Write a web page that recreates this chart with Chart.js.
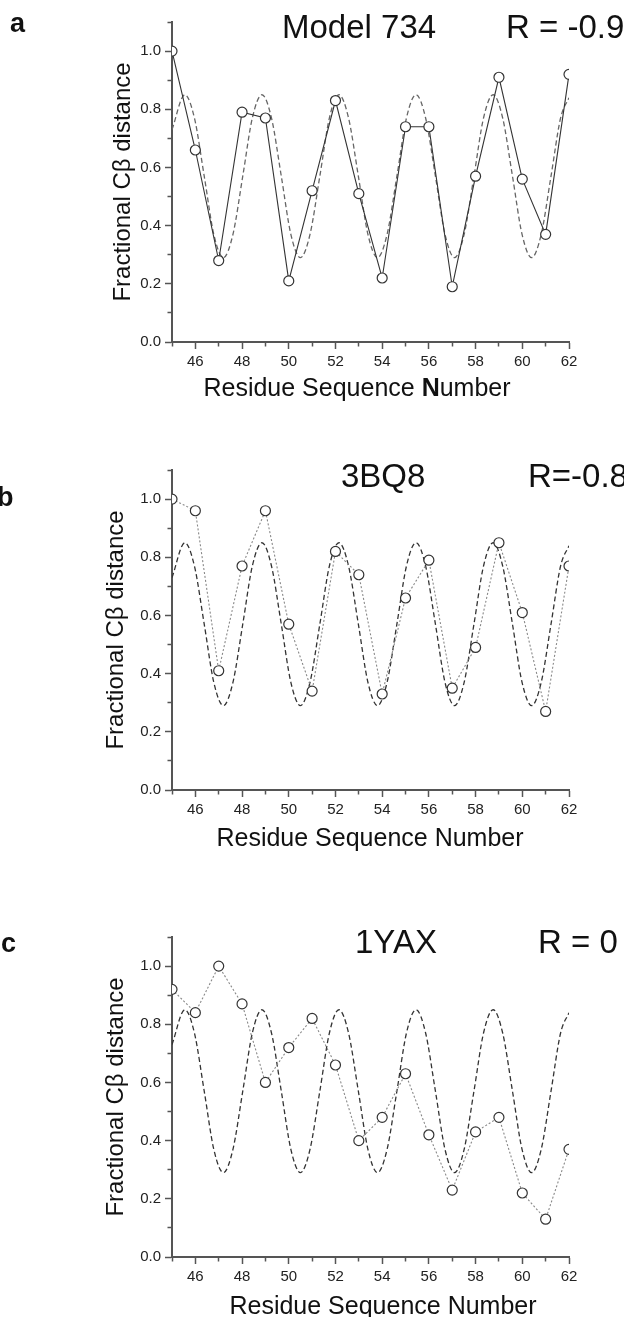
<!DOCTYPE html>
<html>
<head>
<meta charset="utf-8">
<script src="https://cdn.jsdelivr.net/npm/chart.js@4.4.1/dist/chart.umd.min.js"></script>
<style>
  html, body { margin: 0; padding: 0; background: #fff; }
  #page {
    position: relative; width: 624px; height: 1317px; overflow: hidden;
    font-family: "Liberation Sans", Arial, sans-serif; color: #111;
  }
  canvas.panel { position: absolute; left: 0; width: 624px; height: 400px; }
  .txt { position: absolute; white-space: nowrap; line-height: 1; }
  .lab { font-weight: bold; font-size: 27px; }
  .ttl { font-size: 33px; }
  .xt { font-size: 25px; width: 400px; text-align: center; }
  .xt b { font-weight: bold; }
</style>
</head>
<body>
<div id="page">
  <canvas id="chart-a" class="panel" width="624" height="400" style="top:0px"></canvas>
  <canvas id="chart-b" class="panel" width="624" height="400" style="top:448px"></canvas>
  <canvas id="chart-c" class="panel" width="624" height="400" style="top:915px"></canvas>

  <div class="txt lab" style="left:10px;top:10px">a</div>
  <div class="txt ttl" style="left:282px;top:10px">Model 734</div>
  <div class="txt ttl" style="left:506px;top:10px">R = -0.9</div>
  <div class="txt xt" style="left:157px;top:375px">Residue Sequence <b>N</b>umber</div>

  <div class="txt lab" style="left:-3px;top:484px">b</div>
  <div class="txt ttl" style="left:341px;top:459px">3BQ8</div>
  <div class="txt ttl" style="left:528px;top:459px">R=-0.8</div>
  <div class="txt xt" style="left:170px;top:825px">Residue Sequence Number</div>

  <div class="txt lab" style="left:1px;top:930px">c</div>
  <div class="txt ttl" style="left:355px;top:925px">1YAX</div>
  <div class="txt ttl" style="left:538px;top:925px">R = 0</div>
  <div class="txt xt" style="left:183px;top:1293px">Residue Sequence Number</div>
</div>

<script>
const residues = [45, 46, 47, 48, 49, 50, 51, 52, 53, 54, 55, 56, 57, 58, 59, 60, 61, 62];

const model734 = [1.0, 0.66, 0.28, 0.79, 0.77, 0.21, 0.52, 0.83, 0.51, 0.22, 0.74, 0.74, 0.19, 0.57, 0.91, 0.56, 0.37, 0.92];
const bq8 = [1.0, 0.96, 0.41, 0.77, 0.96, 0.57, 0.34, 0.82, 0.74, 0.33, 0.66, 0.79, 0.35, 0.49, 0.85, 0.61, 0.27, 0.77];
const yax = [0.92, 0.84, 1.0, 0.87, 0.60, 0.72, 0.82, 0.66, 0.40, 0.48, 0.63, 0.42, 0.23, 0.43, 0.48, 0.22, 0.13, 0.37];

// dashed ideal helix curve (same in all panels)
const helixX = [45, 45.55, 45.96, 46.38, 46.79, 47.2, 47.61, 48.03, 48.44, 48.85, 49.26, 49.68, 50.09, 50.5,
  50.91, 51.33, 51.74, 52.15, 52.56, 52.98, 53.39, 53.8, 54.21, 54.63, 55.04, 55.45, 55.86, 56.28, 56.69,
  57.1, 57.51, 57.93, 58.34, 58.75, 59.16, 59.58, 59.99, 60.4, 60.81, 61.23, 61.64, 62];
const helixY = [0.73, 0.85, 0.77, 0.57, 0.37, 0.29, 0.37, 0.57, 0.77, 0.85, 0.77, 0.57, 0.37, 0.29,
  0.37, 0.57, 0.77, 0.85, 0.77, 0.57, 0.37, 0.29, 0.37, 0.57, 0.77, 0.85, 0.77, 0.57, 0.37,
  0.29, 0.37, 0.57, 0.77, 0.85, 0.77, 0.57, 0.37, 0.29, 0.37, 0.57, 0.77, 0.84];

const yTitle = "Fractional C\u03B2 distance";
const FONT = "'Liberation Sans', Arial, sans-serif";

const panels = [
  { id: "chart-a", values: model734, lineColor: "#333", lineDash: [], helixColor: "#666", titlePad: 109 },
  { id: "chart-b", values: bq8, lineColor: "#888", lineDash: [2, 2], helixColor: "#333", titlePad: 102 },
  { id: "chart-c", values: yax, lineColor: "#888", lineDash: [2, 2], helixColor: "#333", titlePad: 102 },
];

function isMinorY(v) {
  return Math.round(v * 10) % 2 !== 0;
}

function buildChart(p) {
  const ctx = document.getElementById(p.id).getContext("2d");
  new Chart(ctx, {
    type: "line",
    data: {
      datasets: [
        {
          data: residues.map((r, i) => ({ x: r, y: p.values[i] })),
          borderColor: p.lineColor,
          borderWidth: 1.1,
          borderDash: p.lineDash,
          tension: 0,
          pointRadius: 5,
          pointBorderWidth: 1.2,
          pointBorderColor: "#333",
          pointBackgroundColor: "#fff",
          clip: 0,
        },
        {
          data: helixX.map((x, i) => ({ x: x, y: helixY[i] })),
          borderColor: p.helixColor,
          borderWidth: 1.3,
          borderDash: [5, 3],
          pointRadius: 0,
          cubicInterpolationMode: "monotone",
          clip: 0,
        },
      ],
    },
    options: {
      responsive: false,
      animation: false,
      events: [],
      layout: { padding: { left: 0, right: 55, top: 22, bottom: 18 } },
      plugins: { legend: { display: false }, tooltip: { enabled: false } },
      scales: {
        x: {
          type: "linear",
          min: 45,
          max: 62,
          afterFit: (scale) => { scale.height = 40; },
          border: { color: "#555", width: 2 },
          grid: {
            drawOnChartArea: false,
            tickLength: 7,
            tickWidth: 1.5,
            tickColor: "#555",
            tickBorderDash: (c) => (c.tick && c.tick.value % 2 !== 0 ? [3.5, 20] : []),
          },
          ticks: {
            stepSize: 1,
            autoSkip: false,
            maxRotation: 0,
            padding: 4,
            color: "#222",
            font: { family: FONT, size: 15 },
            callback: (v) => (v % 2 === 0 ? String(v) : ""),
          },
        },
        y: {
          min: 0,
          max: 1.1,
          afterFit: (scale) => { scale.width = 172; },
          border: { color: "#555", width: 2 },
          grid: {
            drawOnChartArea: false,
            tickLength: 7,
            tickWidth: 1.5,
            tickColor: "#555",
            tickBorderDash: (c) => (c.tick && isMinorY(c.tick.value) ? [0, 2.5, 20] : []),
          },
          ticks: {
            stepSize: 0.1,
            padding: 4,
            color: "#222",
            font: { family: FONT, size: 15 },
            callback: (v) => {
              const k = Math.round(v * 10);
              return k % 2 === 0 && k <= 10 ? (k / 10).toFixed(1) : "";
            },
          },
          title: {
            display: true,
            text: yTitle,
            color: "#111",
            font: { family: FONT, size: 24 },
            padding: { top: p.titlePad, bottom: 0 },
          },
        },
      },
    },
  });
}

panels.forEach(buildChart);
</script>
</body>
</html>
